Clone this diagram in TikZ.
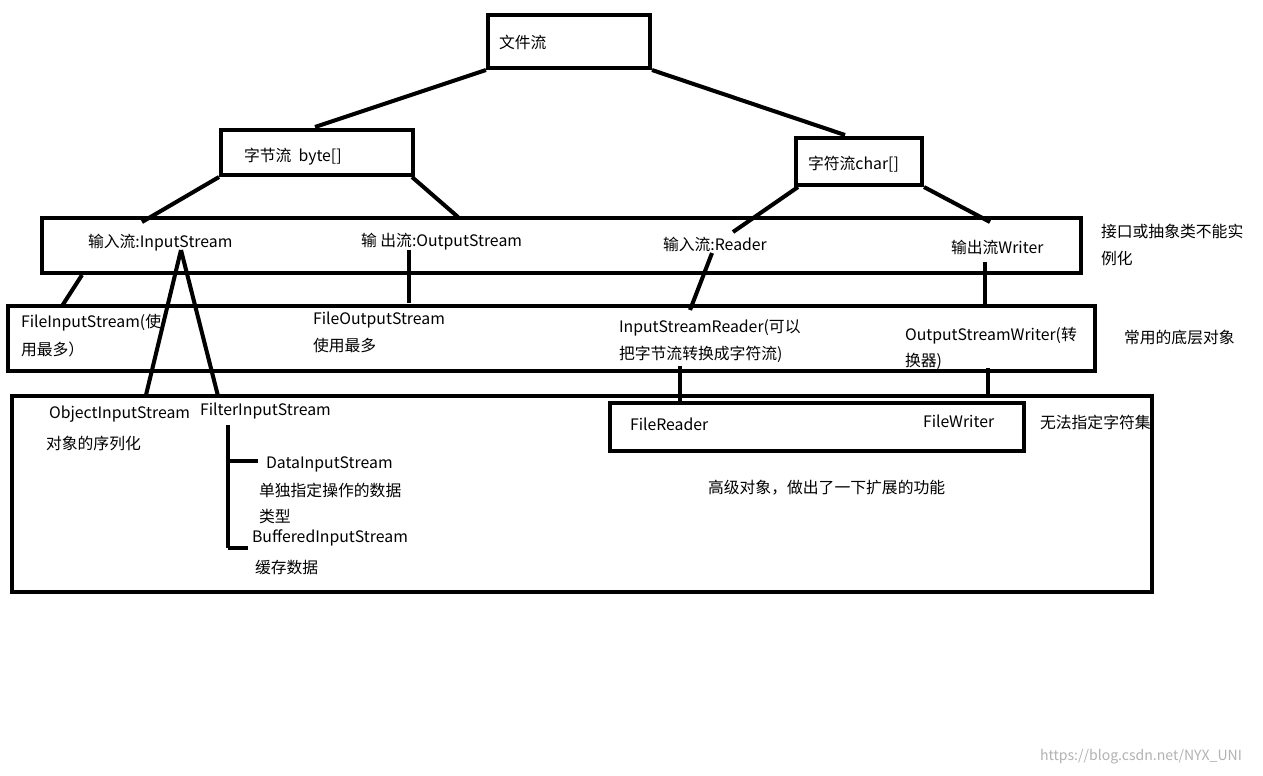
\documentclass[tikz,border=0pt]{standalone}
\usepackage{fontspec}
\setmainfont{Noto Sans CJK SC}
\usetikzlibrary{positioning}

\begin{document}
\begin{tikzpicture}[x=0.02cm, y=-0.02cm, line width=2.3pt,
    box/.style={draw, rectangle, inner sep=0pt},
    txt/.style={anchor=west, inner sep=0pt, font=\fontsize{9}{11}\selectfont}]
		\useasboundingbox (0,0) rectangle (1263,775);
		% boxes
		\node[box, minimum width=3.24cm, minimum height=1.06cm] (file) at (569,41.5) {};
		\node[box, minimum width=3.84cm, minimum height=0.9cm] (byte) at (317,152.5) {};
		\node[box, minimum width=2.52cm, minimum height=0.94cm] (char) at (859,161.5) {};
		\node[box, minimum width=20.78cm, minimum height=1.1cm] (iface) at (561.5,245.5) {};
		\node[box, minimum width=21.74cm, minimum height=1.3cm] (base) at (551.5,338.5) {};
		\node[box, minimum width=22.8cm, minimum height=3.92cm] (high) at (582,494) {};
		\node[box, minimum width=8.28cm, minimum height=0.96cm] (frw) at (817,427) {};

		% texts
		\node[txt] (tfile) at (497,42) {文件流};
		\node[txt] (tbyte) at (242,157) {字节流 \ byte[]};
		\node[txt] (tchar) at (806,164) {字符流char[]};
		\node[txt] (tin) at (86,243) {输入流:InputStream};
		\node[txt] (tout) at (359,242) {输 出流:OutputStream};
		\node[txt] (trd) at (661,244) {输入流:Reader};
		\node[txt] (twr) at (949,247) {输出流Writer};
		\node[txt] (n1a) at (1099,231) {接口或抽象类不能实};
		\node[txt] (n1b) at (1099,258) {例化};
		\node[txt] (fis) at (19,323) {FileInputStream(使};
		\node[txt] (fisb) at (19,349) {用最多）};
		\node[txt] (fos) at (311,320) {FileOutputStream};
		\node[txt] (fosb) at (311,346) {使用最多};
		\node[txt] (isr) at (617,328) {InputStreamReader(可以};
		\node[txt] (isrb) at (617,354) {把字节流转换成字符流)};
		\node[txt] (osw) at (903,336) {OutputStreamWriter(转};
		\node[txt] (oswb) at (903,361) {换器)};
		\node[txt] (n2) at (1122,338) {常用的底层对象};
		\node[txt] (ois) at (47,414) {ObjectInputStream};
		\node[txt] (oisb) at (44,443) {对象的序列化};
		\node[txt] (fil) at (198,411) {FilterInputStream};
		\node[txt] (dis) at (264,464) {DataInputStream};
		\node[txt] (disb) at (257,490) {单独指定操作的数据};
		\node[txt] (disc) at (257,516) {类型};
		\node[txt] (bis) at (250,538) {BufferedInputStream};
		\node[txt] (bisb) at (253,567) {缓存数据};
		\node[txt] (fr) at (628,424) {FileReader};
		\node[txt] (fw) at (921,421) {FileWriter};
		\node[txt] (n3) at (1038,422) {无法指定字符集};
		\node[txt] (n4) at (706,488) {高级对象，做出了一下扩展的功能};
		\node[txt, text=black!30, font=\fontsize{8}{10}\selectfont] (wm) at (1038,757) {https://blog.csdn.net/NYX\_UNI};

		% connector ends
		\coordinate (a1) at (315,127);
		\coordinate (a2) at (845,135);
		\coordinate (b1) at (142,222);
		\coordinate (b2) at (458,217);
		\coordinate (c1) at (733,232);
		\coordinate (c2) at (990,222);
		\coordinate (d1) at (82,275);
		\coordinate (d2) at (62,306);
		\coordinate (e1) at (409,250);
		\coordinate (e2) at (409,303);
		\coordinate (f1) at (712,253);
		\coordinate (f2) at (690,310);
		\coordinate (g1) at (985,262);
		\coordinate (g2) at (985,304);
		\coordinate (h0) at (181,250);
		\coordinate (h1) at (146,395);
		\coordinate (h2) at (218,396);
		\coordinate (i1) at (680,366);
		\coordinate (i2) at (680,404);
		\coordinate (j1) at (988,368);
		\coordinate (j2) at (988,395);
		\coordinate (k1) at (228,425);
		\coordinate (k2) at (228,548);
		\coordinate (k3) at (228,461);
		\coordinate (k4) at (258,461);
		\coordinate (k5) at (248,548);

		% connectors
		\draw (file.south west) -- (a1);
		\draw (file.south east) -- (a2);
		\draw (byte.south west) -- (b1);
		\draw ([xshift=-0.06cm]byte.south east) -- (b2);
		\draw ([xshift=0.08cm]char.south west) -- (c1);
		\draw (char.south east) -- (c2);
		\draw (d1) -- (d2);
		\draw (e1) -- (e2);
		\draw (f1) -- (f2);
		\draw (g1) -- (g2);
		\draw (h0) -- (h1);
		\draw (h0) -- (h2);
		\draw (i1) -- (i2);
		\draw (j1) -- (j2);
		\draw (k1) -- (k2);
		\draw (k3) -- (k4);
		\draw (k2) -- (k5);
	\end{tikzpicture}
\end{document}
